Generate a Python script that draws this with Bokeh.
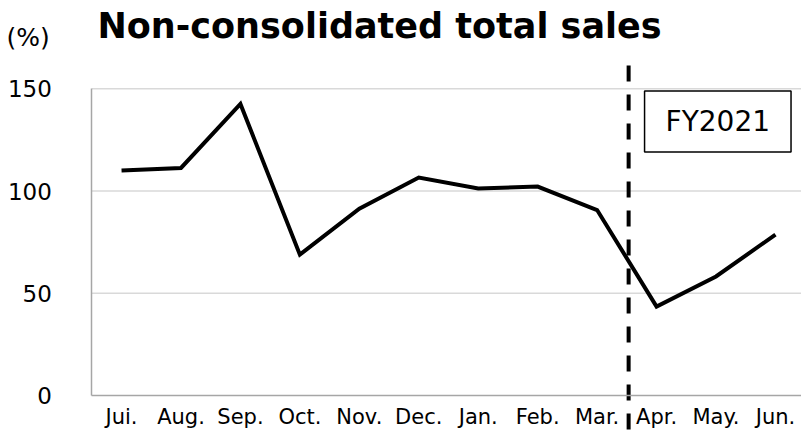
from bokeh.plotting import figure
from bokeh.models import Range1d, FixedTicker, Label
from bokeh.embed import file_html
from bokeh.resources import INLINE

months = ["Jui.", "Aug.", "Sep.", "Oct.", "Nov.", "Dec.", "Jan.", "Feb.", "Mar.", "Apr.", "May.", "Jun."]
sales = [110.0, 111.3, 142.6, 68.9, 91.4, 106.6, 101.2, 102.2, 90.7, 43.5, 58.2, 78.7]
y_ticks = [0, 50, 100, 150]
title_text = "Non-consolidated total sales"
unit_text = "(%)"
fy_text = "FY2021"

FONT = "DejaVu Sans"
xs = list(range(1, len(months) + 1))
X_END = 12.438

p = figure(width=801, height=433, output_backend="svg", toolbar_location=None,
           x_range=Range1d(-1.036, X_END), y_range=Range1d(-18.6, 193.2),
           min_border_left=0, min_border_right=0, min_border_top=0, min_border_bottom=0)
p.outline_line_color = None
p.background_fill_color = "white"
p.border_fill_color = "white"
p.xgrid.visible = False
p.ygrid.visible = False

# gridlines (for non-zero ticks)
grid_y = [t for t in y_ticks if t != 0]
p.segment(x0=[0.5] * len(grid_y), x1=[X_END] * len(grid_y), y0=grid_y, y1=grid_y,
          line_color="#d9d9d9", line_width=1.5)

# axes
p.xaxis.ticker = FixedTicker(ticks=xs)
p.xaxis.major_label_overrides = {x: m for x, m in zip(xs, months)}
p.xaxis.fixed_location = 0
p.xaxis.bounds = (0.5, X_END)
p.yaxis.ticker = FixedTicker(ticks=y_ticks)
p.yaxis.fixed_location = 0.5
p.yaxis.bounds = (0, 150)
for ax in (p.xaxis, p.yaxis):
    ax.major_tick_line_color = None
    ax.minor_tick_line_color = None
    ax.major_tick_out = 0
    ax.major_tick_in = 0
    ax.axis_line_color = "#a6a6a6"
    ax.axis_line_width = 1.5
    ax.major_label_text_font = FONT
    ax.major_label_text_color = "black"
p.xaxis.major_label_text_font_size = "21px"
p.yaxis.major_label_text_font_size = "23px"
p.xaxis.major_label_standoff = 10
p.yaxis.major_label_standoff = 40

p.line(xs, sales, line_color="black", line_width=4, line_join="miter")

# fiscal year divider
p.segment(x0=[9.53], x1=[9.53], y0=[161.4], y1=[-18.6], line_color="black",
          line_width=4, line_dash="16 13")

p.add_layout(Label(x=11.03, y=134, text=fy_text, text_font=FONT, text_font_size="28px",
                   text_align="center", text_baseline="middle", text_color="black",
                   padding=(21, 14), border_line_color="black", border_line_width=1.5,
                   background_fill_color="white"))

p.add_layout(Label(x=0.596, y=180.5, text=title_text, text_font=FONT, text_font_size="35px",
                   text_font_style="bold", text_align="left", text_baseline="alphabetic",
                   text_color="black"))
p.add_layout(Label(x=-0.935, y=175.0, text=unit_text, text_font=FONT, text_font_size="25px",
                   text_align="left", text_baseline="alphabetic", text_color="black"))

open("out.html", "w").write(file_html(p, INLINE))
